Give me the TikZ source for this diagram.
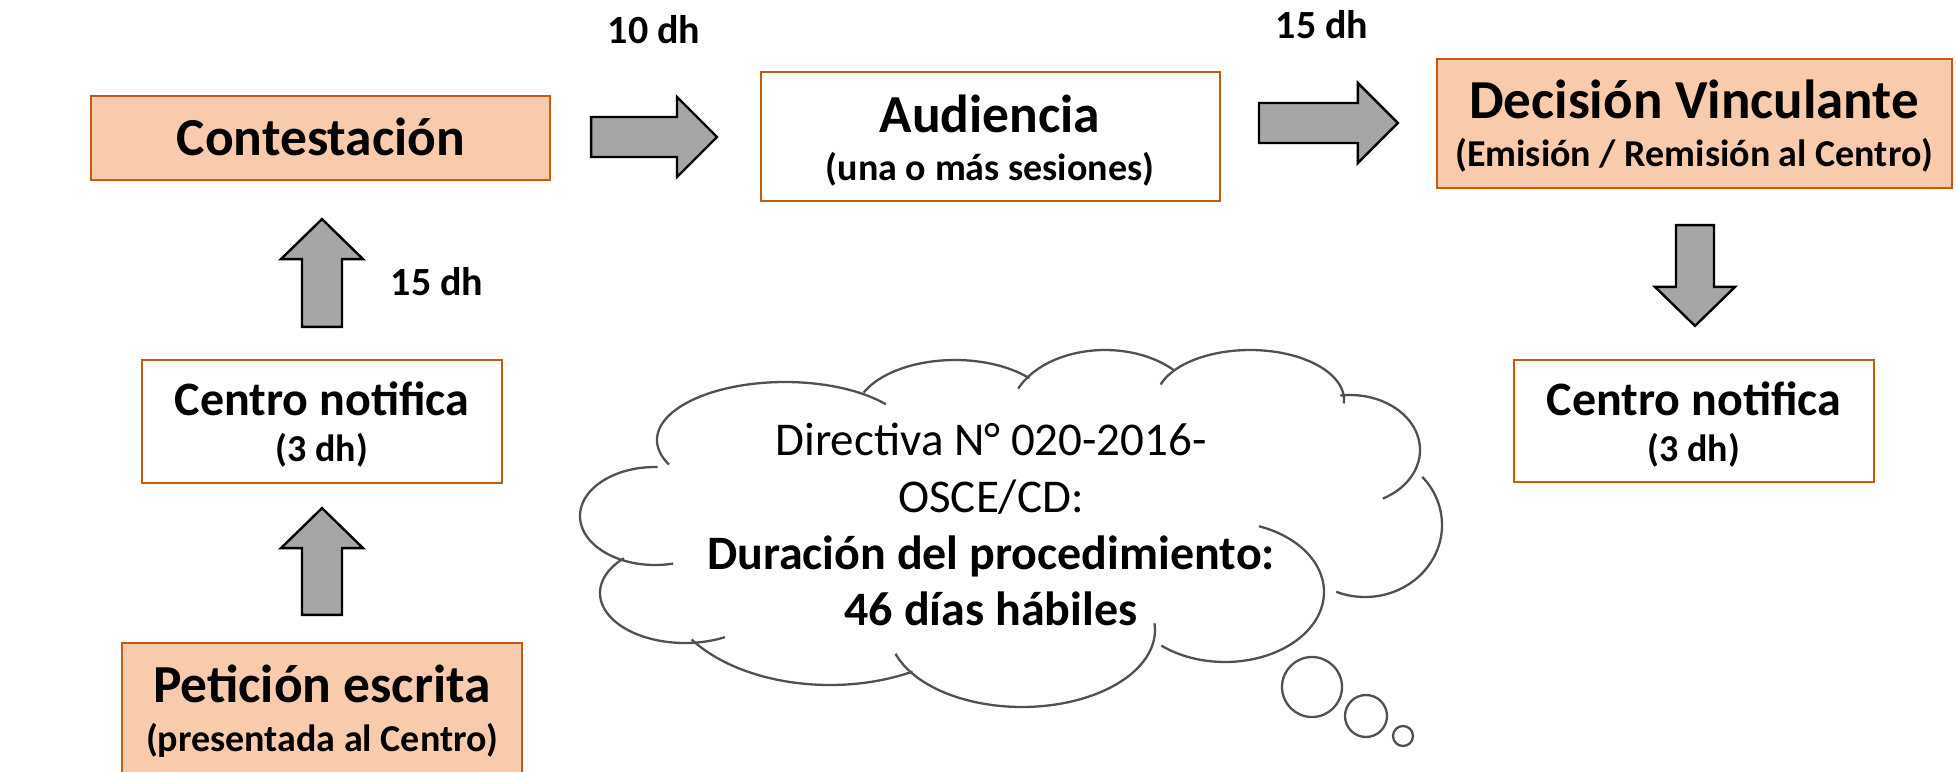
\documentclass[tikz,border=0pt]{standalone}
\usepackage{fontspec}
\setmainfont{Carlito}
\usetikzlibrary{calc}
\definecolor{boxfill}{HTML}{F8CBAD}
\definecolor{boxline}{HTML}{C55A11}
\definecolor{arrgray}{HTML}{A6A6A6}
\definecolor{cloudgray}{HTML}{505050}
\tikzset{
  box/.style={draw=boxline, line width=2.2pt, inner sep=0pt, fill=white},
  hotbox/.style={box, fill=boxfill},
  ttl/.style={font=\fontsize{53.5}{60}\selectfont\bfseries, anchor=base, inner sep=0pt},
  ttlsm/.style={font=\fontsize{48}{54}\selectfont\bfseries, anchor=base, inner sep=0pt},
  sub/.style={font=\fontsize{38}{44}\selectfont\bfseries, anchor=base, inner sep=0pt},
  lbl/.style={font=\fontsize{40}{44}\selectfont\bfseries, anchor=base, inner sep=0pt},
  cloudtxt/.style={font=\fontsize{47}{56}\selectfont, anchor=base, inner sep=0pt},
  cloudbold/.style={font=\fontsize{48}{56}\selectfont\bfseries, anchor=base, inner sep=0pt},
  blockarrow/.style={draw=black, line width=2.4pt, fill=arrgray, line join=miter},
  cloudline/.style={draw=cloudgray, line width=2.3pt},
}
\newcommand{\rightarr}[2]{\draw[blockarrow] ($(#1)+(0,-20)$) -- ($(#2)+(-40,-20)$) -- ($(#2)+(-40,-40)$) -- (#2) -- ($(#2)+(-40,40)$) -- ($(#2)+(-40,20)$) -- ($(#1)+(0,20)$) -- cycle;}
\newcommand{\uparr}[2]{\draw[blockarrow] ($(#1)+(-20,0)$) -- ($(#2)+(-20,40)$) -- ($(#2)+(-41,40)$) -- (#2) -- ($(#2)+(41,40)$) -- ($(#2)+(20,40)$) -- ($(#1)+(20,0)$) -- cycle;}
\newcommand{\downarr}[2]{\draw[blockarrow] ($(#1)+(-19,0)$) -- ($(#2)+(-19,-39)$) -- ($(#2)+(-40,-39)$) -- (#2) -- ($(#2)+(40,-39)$) -- ($(#2)+(19,-39)$) -- ($(#1)+(19,0)$) -- cycle;}
\newcommand{\lobe}[6]{\draw[cloudline] plot[domain=#5:#6, samples=80, variable=\t] ({#1+#3*cos(\t)},{#2+#4*sin(\t)});}
\begin{document}
\begin{tikzpicture}[x=1pt, y=-1pt]
\useasboundingbox (0,0) rectangle (1956,771);
% boxes
\node[hotbox, minimum width=459pt, minimum height=84pt] (contest) at (320.5,138) {};
\node[box, minimum width=459pt, minimum height=129pt] (aud) at (990.5,136.5) {};
\node[hotbox, minimum width=515pt, minimum height=129pt] (dec) at (1694.5,123.5) {};
\node[box, minimum width=360pt, minimum height=123pt] (notifL) at (322,421.5) {};
\node[box, minimum width=360pt, minimum height=122pt] (notifR) at (1694,421) {};
\node[hotbox, minimum width=400pt, minimum height=142pt] (pet) at (322,714) {};
% texts
\node[ttl] (tcontest) at (321,155) {Contestación};
\node[ttl] (taud) at (990,132) {Audiencia};
\node[sub] (saud) at (990,180) {(una o más sesiones)};
\node[ttl, font=\fontsize{55}{60}\selectfont\bfseries] (tdec) at (1694,118) {Decisión Vinculante};
\node[sub] (sdec) at (1694,166) {(Emisión / Remisión al Centro)};
\node[ttlsm] (tnotifL) at (322,415) {Centro notifica};
\node[sub] (snotifL) at (322,461) {(3 dh)};
\node[ttlsm] (tnotifR) at (1694,415) {Centro notifica};
\node[sub] (snotifR) at (1694,461) {(3 dh)};
\node[ttl] (tpet) at (322,702) {Petición escrita};
\node[sub] (spet) at (322,751) {(presentada al Centro)};
% duration labels
\node[lbl] (l10) at (654,43) {10 dh};
\node[lbl] (l15a) at (1322,38) {15 dh};
\node[lbl] (l15b) at (437,295) {15 dh};
% block arrows
\coordinate (r1s) at ($(contest.east)+(40,-1)$);
\coordinate (r1e) at (717,137);
\coordinate (r2s) at (1259,123);
\coordinate (r2e) at ($(dec.west)+(-38,-0.5)$);
\coordinate (d1s) at ($(dec.south)+(0.5,36)$);
\coordinate (d1e) at ($(notifR.north)+(1,-33)$);
\coordinate (u1s) at ($(notifL.north)+(0,-32)$);
\coordinate (u1e) at ($(contest.south)+(1.5,38)$);
\coordinate (u2s) at ($(pet.north)+(0,-27)$);
\coordinate (u2e) at ($(notifL.south)+(0,24)$);
\rightarr{r1s}{r1e}
\rightarr{r2s}{r2e}
\downarr{d1s}{d1e}
\uparr{u1s}{u1e}
\uparr{u2s}{u2e}
% cloud
\lobe{655}{516}{75}{49}{76}{272}
\lobe{785}{440}{128}{58}{155}{322}
\lobe{955}{415}{100}{55}{204}{318}
\lobe{1105}{415}{95}{65}{204}{316}
\lobe{1250}{400}{94}{50}{198}{364}
\lobe{1350}{450}{70}{55}{262}{422}
\lobe{1365}{525}{77}{72}{318}{472}
\lobe{1225}{592}{99}{70}{290}{490}
\lobe{1022}{630}{133}{77}{-5}{162}
\lobe{830}{585}{165}{100}{60}{147}
\lobe{685}{593}{85}{50}{62}{224}
\node[cloudtxt] (c1) at (991,455) {Directiva N° 020-2016-};
\node[cloudtxt] (c2) at (991,512) {OSCE/CD:};
\node[cloudbold] (c3) at (991,569) {Duración del procedimiento:};
\node[cloudbold] (c4) at (991,625) {46 días hábiles};
% thought bubbles
\draw[cloudline] (1312,687) circle[radius=30];
\draw[cloudline] (1366,716) circle[radius=21];
\draw[cloudline] (1403,736) circle[radius=10];
\end{tikzpicture}
\end{document}
